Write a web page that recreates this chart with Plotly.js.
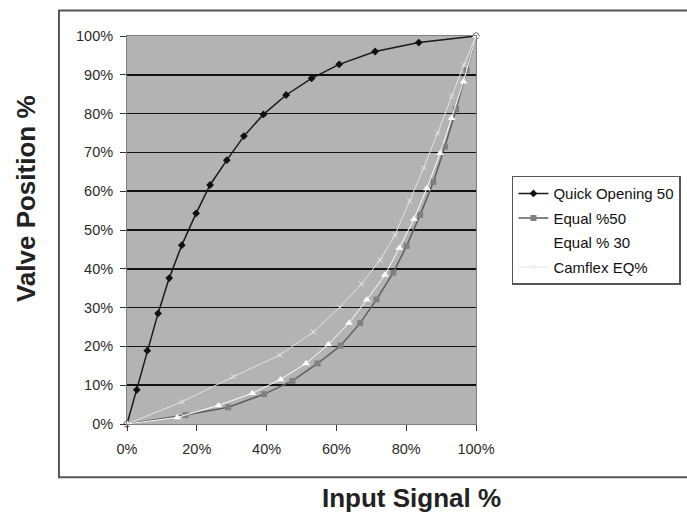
<!DOCTYPE html>
<html>
<head>
<meta charset="utf-8">
<script src="https://cdn.plot.ly/plotly-3.0.1.min.js"></script>
<style>html,body{margin:0;padding:0;background:#fff;}#chart{width:687px;height:514px;}</style>
</head>
<body>
<div id="chart"></div>
<script>
// Input signal (%) and valve position (%)
const seriesNames = ["Quick Opening 50", "Equal %50", "Equal % 30", "Camflex EQ%"];

const quickX = [0, 2.8, 5.8, 8.9, 12.1, 15.7, 19.8, 23.8, 28.6, 33.5, 39.1, 45.6, 52.9, 60.8, 71.1, 83.6, 100];
const quickY = [0, 8.8, 18.9, 28.5, 37.6, 46.1, 54.3, 61.6, 68.0, 74.2, 79.8, 84.8, 89.1, 92.7, 96.0, 98.3, 100];

const eq50X = [0, 16.8, 29.0, 39.3, 47.4, 54.6, 61.2, 66.8, 71.5, 76.3, 80.1, 84.0, 87.8, 91.1, 94.3, 97.3, 100];
const eq50Y = [0, 2.3, 4.3, 7.7, 11.1, 15.6, 20.2, 26.0, 32.1, 39.0, 45.9, 53.9, 62.4, 71.5, 81.1, 91.2, 100];

const eq30X = [0, 14.4, 26.2, 35.9, 44.0, 51.3, 57.7, 63.6, 68.7, 73.9, 78.0, 82.2, 85.9, 89.7, 93.0, 96.4, 100];
const eq30Y = [0, 1.7, 4.8, 7.9, 11.5, 15.6, 20.5, 26.0, 32.0, 38.4, 45.3, 52.8, 60.7, 69.8, 78.8, 88.2, 100];

const camX = [0, 15.7, 30.5, 43.8, 53.4, 61.0, 67.2, 72.5, 76.8, 81.0, 85.0, 89.0, 93.0, 96.5, 100];
const camY = [0, 5.7, 12.2, 17.8, 23.7, 30.1, 36.1, 42.3, 48.7, 57.5, 66.0, 75.0, 84.5, 92.5, 100];

const yTicks = [0, 10, 20, 30, 40, 50, 60, 70, 80, 90, 100];
const xTicks = [0, 20, 40, 60, 80, 100];

const FONT = "Liberation Sans, Arial, sans-serif";

const traces = [
  {x: quickX, y: quickY, name: seriesNames[0], legendgroup: "a", mode: "lines+markers",
   line: {color: "#1a1a1a", width: 1.5}, marker: {symbol: "diamond", size: 6, color: "#111"}, cliponaxis: false},
  {x: eq50X, y: eq50Y, name: seriesNames[1], legendgroup: "b", mode: "lines+markers",
   line: {color: "#5e5e5e", width: 1.5}, marker: {symbol: "square", size: 6, color: "#808080"}, cliponaxis: false},
  {x: eq30X, y: eq30Y, name: seriesNames[2], legendgroup: "c", mode: "lines+markers",
   line: {color: "#ffffff", width: 1}, marker: {symbol: "triangle-up", size: 7, color: "#ffffff"}, cliponaxis: false},
  {x: camX, y: camY, name: seriesNames[3], legendgroup: "d", mode: "lines+markers",
   line: {color: "#e4e4e4", width: 1}, marker: {symbol: "x-thin-open", size: 5, color: "#e8e8e8", line: {color: "#e8e8e8", width: 1}}, cliponaxis: false}
];

const layout = {
  width: 687, height: 514,
  margin: {l: 127, r: 211, t: 36, b: 90, autoexpand: false},
  paper_bgcolor: "#ffffff",
  plot_bgcolor: "#b3b3b3",
  font: {family: FONT, size: 14, color: "#2b2b2b"},
  showlegend: true,
  legend: {
    x: 1.103, xanchor: "left", y: 0.64, yanchor: "top",
    bgcolor: "#ffffff", bordercolor: "#555", borderwidth: 1.5,
    font: {family: FONT, size: 15, color: "#111"},
    tracegroupgap: 2, traceorder: "grouped"
  },
  xaxis: {
    range: [0, 100], tickvals: xTicks, ticktext: xTicks.map(v => v + "%"),
    showgrid: false, zeroline: false, automargin: false,
    showline: true, linecolor: "#808080", linewidth: 1, mirror: true,
    ticks: "outside", ticklen: 6, tickcolor: "#333", ticklabelstandoff: 6,
    tickfont: {family: FONT, size: 14.5, color: "#2b2b2b"}
  },
  yaxis: {
    range: [0, 100], tickvals: yTicks, ticktext: yTicks.map(v => v + "%"),
    showgrid: true, gridcolor: "#111", gridwidth: 1.5, zeroline: false, automargin: false,
    showline: true, linecolor: "#808080", linewidth: 1, mirror: true,
    ticks: "outside", ticklen: 6, tickcolor: "#333", ticklabelstandoff: 4,
    tickfont: {family: FONT, size: 14.5, color: "#2b2b2b"}
  },
  shapes: [
    {type: "rect", xref: "paper", yref: "paper", x0: -0.195, x1: 1.7, y0: -0.137, y1: 1.066,
     line: {color: "#555", width: 2}, fillcolor: "rgba(0,0,0,0)", layer: "below"}
  ],
  annotations: [
    {text: "<b>Input Signal %</b>", xref: "paper", yref: "paper", x: 0.815, y: -0.19,
     xanchor: "center", yanchor: "middle", showarrow: false,
     font: {family: FONT, size: 26, color: "#222"}},
    {text: "<b>Valve Position %</b>", xref: "paper", yref: "paper", x: -0.289, y: 0.58,
     xanchor: "center", yanchor: "middle", showarrow: false, textangle: -90,
     font: {family: FONT, size: 26, color: "#222"}}
  ]
};

Plotly.newPlot("chart", traces, layout, {displayModeBar: false, staticPlot: true});
</script>
</body>
</html>
